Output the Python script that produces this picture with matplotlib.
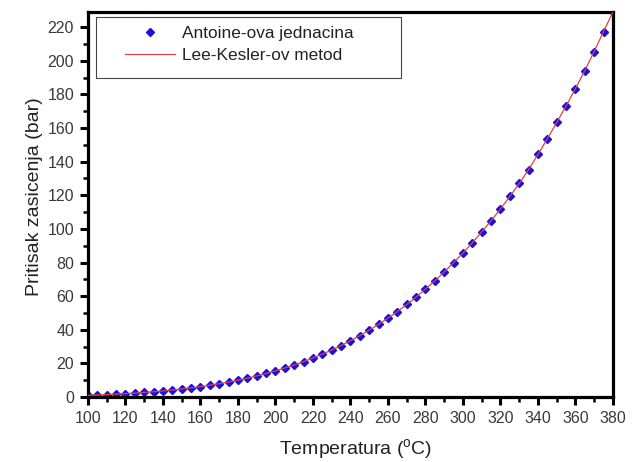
import matplotlib
matplotlib.use("Agg")
import matplotlib.pyplot as plt
from matplotlib.patches import Rectangle
from matplotlib.ticker import MultipleLocator

plt.rcParams["font.family"] = ["Liberation Sans", "DejaVu Sans"]
plt.rcParams["mathtext.fontset"] = "custom"
plt.rcParams["mathtext.rm"] = "Liberation Sans"
plt.rcParams["mathtext.it"] = "Liberation Sans"

# saturation pressure [bar] vs temperature [C], 5 C steps
temperature = [100, 105, 110, 115, 120, 125, 130, 135, 140, 145,
               150, 155, 160, 165, 170, 175, 180, 185, 190, 195,
               200, 205, 210, 215, 220, 225, 230, 235, 240, 245,
               250, 255, 260, 265, 270, 275, 280, 285, 290, 295,
               300, 305, 310, 315, 320, 325, 330, 335, 340, 345,
               350, 355, 360, 365, 370, 375, 380]
p_antoine = [1.01, 1.21, 1.43, 1.69, 1.99, 2.32, 2.70, 3.13, 3.62, 4.16,
             4.76, 5.44, 6.18, 7.01, 7.92, 8.93, 10.03, 11.23, 12.55, 13.99,
             15.55, 17.24, 19.08, 21.06, 23.20, 25.50, 27.97, 30.63, 33.47, 36.51,
             39.76, 43.23, 46.92, 50.85, 55.03, 59.46, 64.17, 69.15, 74.42, 79.99,
             85.6, 91.8, 98.2, 104.9, 111.9, 119.3, 127.0, 135.3, 144.3, 153.6,
             163.3, 173.1, 183.5, 194.2, 205.3, 217.0, 229.0]
p_lee_kesler = [1.01, 1.21, 1.43, 1.69, 1.99, 2.32, 2.70, 3.13, 3.62, 4.16,
                4.76, 5.44, 6.18, 7.01, 7.92, 8.93, 10.03, 11.23, 12.55, 13.99,
                15.55, 17.24, 19.08, 21.06, 23.20, 25.50, 27.97, 30.63, 33.47, 36.51,
                39.76, 43.23, 46.92, 50.85, 55.03, 59.46, 64.17, 69.15, 74.42, 79.99,
                85.6, 91.8, 98.2, 104.9, 111.9, 119.3, 127.0, 135.3, 144.3, 153.6,
                163.3, 173.1, 183.5, 194.2, 205.6, 217.5, 229.0]

fig = plt.figure(figsize=(6.4, 4.62), dpi=100)
ax = fig.add_axes([0.1375, 0.1407, 0.8203, 0.8333])

ax.plot(temperature, p_antoine, linestyle="none", marker="D", markersize=3.6,
        color="#1a10e0", label="Antoine-ova jednacina", zorder=2)
ax.plot(temperature, p_lee_kesler, color="#e04040", linewidth=0.9,
        label="Lee-Kesler-ov metod", zorder=3)

ax.set_xlim(100, 380)
ax.set_ylim(0, 229)
ax.xaxis.set_major_locator(MultipleLocator(20))
ax.xaxis.set_minor_locator(MultipleLocator(10))
ax.yaxis.set_major_locator(MultipleLocator(20))
ax.yaxis.set_minor_locator(MultipleLocator(10))

for side in ax.spines.values():
    side.set_linewidth(2.3)
ax.tick_params(which="major", direction="out", length=6, width=2.2,
               labelsize=11.5, labelcolor="#3a3a3a", pad=4)
ax.tick_params(which="minor", direction="out", length=3.5, width=1.8)
ax.tick_params(top=False, right=False, which="both")

ax.set_xlabel("Temperatura ($^{o}$C)", fontsize=14, color="#222222")
ax.set_ylabel("Pritisak zasicenja (bar)", fontsize=14, color="#222222")
ax.xaxis.set_label_coords(0.51, -0.105)
ax.yaxis.set_label_coords(-0.085, 0.521)

# legend entries without frame, box drawn as a plain rectangle
leg = ax.legend(loc="upper left", bbox_to_anchor=(0.07, 0.965), borderaxespad=0,
                borderpad=0, frameon=False, fontsize=12.4, handlelength=2.9,
                handletextpad=0.45, labelspacing=0.45)
for t in leg.get_texts():
    t.set_color("#222222")
ax.add_patch(Rectangle((0.015, 0.8286), 0.581, 0.158, transform=ax.transAxes,
                       facecolor="white", edgecolor="#444444", linewidth=0.8,
                       zorder=4))
leg.set_zorder(5)

fig.savefig("out.png", dpi=100)
